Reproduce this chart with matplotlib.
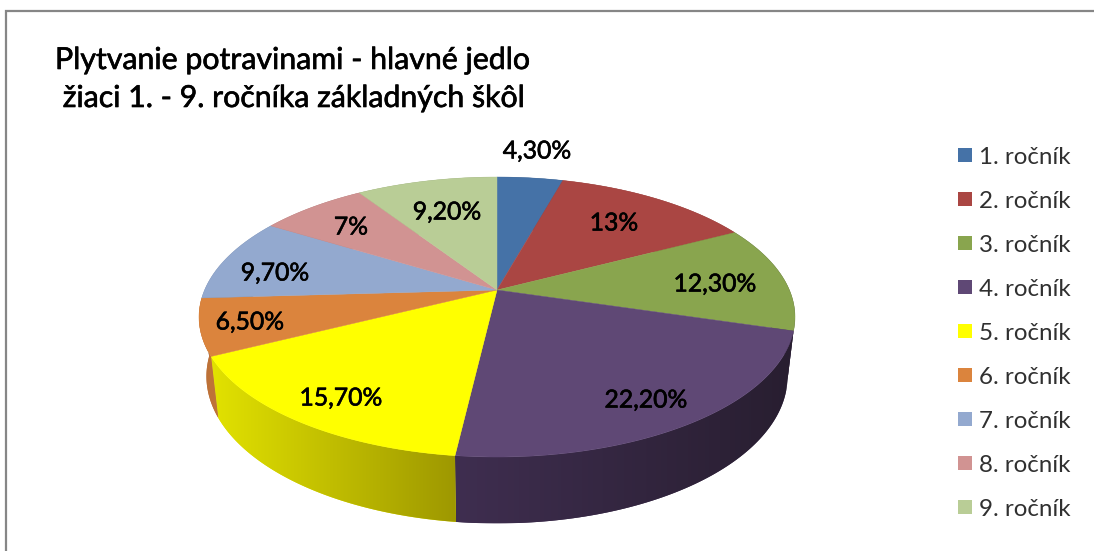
import numpy as np
import matplotlib
matplotlib.use('Agg')
import matplotlib.pyplot as plt
import matplotlib.patheffects as pe
from matplotlib.colors import to_rgb
from matplotlib.patches import Polygon, Rectangle

plt.rcParams['font.family'] = ['Lato', 'DejaVu Sans']

# data
categories = ['1. ročník', '2. ročník', '3. ročník', '4. ročník', '5. ročník',
              '6. ročník', '7. ročník', '8. ročník', '9. ročník']
values = [4.3, 13, 12.3, 22.2, 15.7, 6.5, 9.7, 7, 9.2]
value_labels = ['4,30%', '13%', '12,30%', '22,20%', '15,70%', '6,50%', '9,70%', '7%', '9,20%']
label_x = [537, 614, 715, 646, 341, 250, 275, 351, 447]
label_y = [151, 223, 284, 400, 398, 322, 273, 227, 212]
colors = ['#4572A7', '#AA4643', '#89A54E', '#5F4875', '#FFFF00',
          '#DB843D', '#93A9CF', '#D19392', '#B9CD96']
# side wall colours (left end, right end)
side_colors = [('#2F4C70', '#2F4C70'), ('#72302E', '#72302E'), ('#2A2033', '#2A2033'),
               ('#3F2E50', '#281E30'), ('#E2E200', '#9E9800'), ('#BC7038', '#C07438'),
               ('#62718A', '#62718A'), ('#8C6261', '#8C6261'), ('#7C8964', '#7C8964')]
title_lines = ['Plytvanie potravinami - hlavné jedlo', ' žiaci 1. - 9. ročníka základných škôl']

# pie geometry in pixels
cx, cy = 497, 290
rx, ry = 292.4, 134.8
persp = 0.193
depth_x, depth_y, depth_off = 0.975, 1.05, 58


def top_pts(t):
    u, v = np.sin(t), np.cos(t)
    w = 1 + persp * v
    return cx + rx * u / w, cy - ry * v / w


def bottom_pts(t):
    x, y = top_pts(t)
    return cx + (x - cx) * depth_x, cy + depth_off + (y - cy) * depth_y


fig = plt.figure(figsize=(10.94, 5.51), dpi=100)
ax = fig.add_axes([0, 0, 1, 1])
ax.set_xlim(0, 1094)
ax.set_ylim(551, 0)
ax.axis('off')

# frame
ax.plot([6, 6, 1094], [551, 11, 11], color='#868686', lw=1.6, solid_joinstyle='miter')

edges = np.cumsum([0] + values) / np.sum(values) * 2 * np.pi

# side walls first, the top faces cover the hidden parts
for i in range(len(values)):
    t = np.linspace(edges[i], edges[i + 1], 80)
    xt, yt = top_pts(t)
    xb, yb = bottom_pts(t)
    pts = np.column_stack([np.r_[xt, xb[::-1]], np.r_[yt, yb[::-1]]])
    poly = Polygon(pts, closed=True, facecolor=side_colors[i][0], edgecolor='none', zorder=2)
    ax.add_patch(poly)
    left, right = side_colors[i]
    if left != right:
        c0, c1 = np.array(to_rgb(left)), np.array(to_rgb(right))
        grad = np.linspace(c0, c1, 256)[np.newaxis, :, :]
        im = ax.imshow(grad, extent=[pts[:, 0].min(), pts[:, 0].max(), pts[:, 1].max(), pts[:, 1].min()],
                       aspect='auto', zorder=2.5)
        im.set_clip_path(poly)

ax.set_xlim(0, 1094)
ax.set_ylim(551, 0)

# top faces
for i in range(len(values)):
    t = np.linspace(edges[i], edges[i + 1], 80)
    xt, yt = top_pts(t)
    ax.fill(np.r_[cx, xt], np.r_[cy, yt], color=colors[i], lw=0.3, zorder=3)

# the reference text is a semi-bold weight, a thin stroke gets close to it
heavy = [pe.withStroke(linewidth=0.45, foreground='black')]

# value labels
for i in range(len(values)):
    ax.text(label_x[i], label_y[i], value_labels[i], fontsize=17.8,
            ha='center', va='center', color='black', zorder=4, path_effects=heavy)

# title
ax.text(55, 60, title_lines[0], fontsize=21.8, va='center', color='black', path_effects=heavy)
ax.text(55, 98, title_lines[1], fontsize=21.8, va='center', color='black', path_effects=heavy)

# legend
for i in range(len(categories)):
    y = 155 + 44 * i
    ax.add_patch(Rectangle((958, y - 7), 14, 14, facecolor=colors[i], edgecolor='none'))
    ax.text(979, y + 2, categories[i], fontsize=17.4, va='center', color='#303030')

plt.savefig('out.png', dpi=100)
